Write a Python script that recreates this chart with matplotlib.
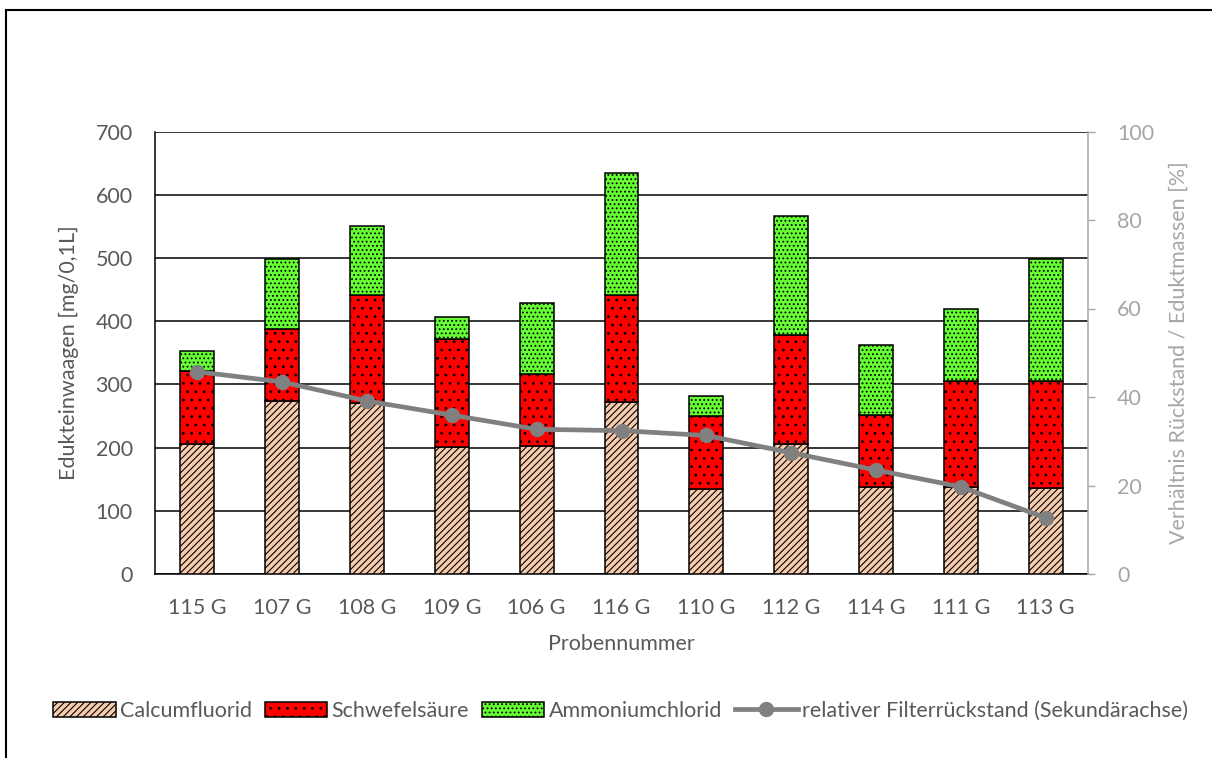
import numpy as np
import matplotlib
matplotlib.use("Agg")
from matplotlib import pyplot as plt
from matplotlib.patches import Rectangle

plt.rcParams['font.family'] = ['Lato', 'DejaVu Sans']
plt.rcParams['hatch.linewidth'] = 0.8

proben = ["115 G", "107 G", "108 G", "109 G", "106 G", "116 G",
          "110 G", "112 G", "114 G", "111 G", "113 G"]
# Einwaagen in mg/0,1L
calciumfluorid = [205, 274, 271, 201, 203, 272, 134, 205, 138, 137, 136]
schwefelsaeure = [116, 113, 170, 171, 114, 170, 116, 173, 113, 169, 170]
ammoniumchlorid = [31, 111, 110, 34, 112, 192, 31, 188, 112, 113, 193]
# relativer Filterrückstand in %
rueckstand = [45.7, 43.4, 39.1, 35.9, 32.7, 32.4, 31.3, 27.4, 23.5, 19.7, 12.7]

grau_text = "#595959"
grau_hell = "#A6A6A6"
fs = 15.5

fig = plt.figure(figsize=(12.12, 7.58), dpi=100)
ax = fig.add_axes([155 / 1212, 1 - 574 / 758, (1088 - 155) / 1212, (574 - 131.5) / 758])

x = np.arange(len(proben))
breite = 0.4
cal = np.array(calciumfluorid)
sch = np.array(schwefelsaeure)
amm = np.array(ammoniumchlorid)

b1 = ax.bar(x, cal, breite, color="#F8CBAD", edgecolor="black", linewidth=1.1,
            hatch="/////", label="Calcumfluorid", zorder=3)
b2 = ax.bar(x, sch, breite, bottom=cal, color="#FF0000", edgecolor="black",
            linewidth=1.1, hatch="..", label="Schwefelsäure", zorder=3)
b3 = ax.bar(x, amm, breite, bottom=cal + sch, color="#66FF33", edgecolor="black",
            linewidth=1.1, hatch="....", label="Ammoniumchlorid", zorder=3)

ax.set_xlim(-0.5, len(proben) - 0.5)
ax.set_ylim(0, 700)
ax.set_yticks(range(0, 701, 100))
ax.set_xticks(x)
ax.set_xticklabels(proben)
ax.yaxis.grid(True, color="black", linewidth=1.1, zorder=0)
ax.set_axisbelow(True)
ax.tick_params(axis="x", length=0, labelsize=fs, colors=grau_text, pad=17)
ax.tick_params(axis="y", length=0, labelsize=fs, colors=grau_text, pad=16)
for s in ["top", "right"]:
    ax.spines[s].set_visible(False)
ax.spines["left"].set_linewidth(1.1)
ax.spines["bottom"].set_linewidth(1.1)
ax.set_ylabel("Edukteinwaagen [mg/0,1L]", fontsize=fs, color=grau_text, labelpad=12)
ax.set_xlabel("Probennummer", fontsize=fs, color=grau_text, labelpad=12)

# Sekundärachse
ax2 = ax.twinx()
l1, = ax2.plot(x, rueckstand, color="#808080", linewidth=3.4, marker="o",
               markersize=10, label="relativer Filterrückstand (Sekundärachse)",
               zorder=5)
ax2.set_ylim(0, 100)
ax2.set_yticks(range(0, 101, 20))
ax2.tick_params(axis="y", colors=grau_hell, labelsize=fs, length=5, width=1,
                direction="out", pad=16)
for s in ["top", "left", "bottom"]:
    ax2.spines[s].set_visible(False)
ax2.spines["right"].set_color(grau_hell)
ax2.spines["right"].set_linewidth(1.1)
ax2.set_ylabel("Verhältnis Rückstand / Eduktmassen [%]", fontsize=fs,
               color=grau_hell, labelpad=10)

leg = fig.legend(handles=[b1, b2, b3, l1], loc="center", ncol=4,
                 bbox_to_anchor=(0.512, 1 - 711 / 758), frameon=False,
                 fontsize=fs, handlelength=2.9, handleheight=0.75,
                 handletextpad=0.2, columnspacing=0.6, labelcolor=grau_text)

# Rahmen des Diagrammbereichs
fig.patches.append(Rectangle((6 / 1212, -0.1), 1.2, 1 - 10 / 758 + 0.1,
                             transform=fig.transFigure, fill=False,
                             edgecolor="black", linewidth=1.5))

plt.savefig("out.png", dpi=100)
